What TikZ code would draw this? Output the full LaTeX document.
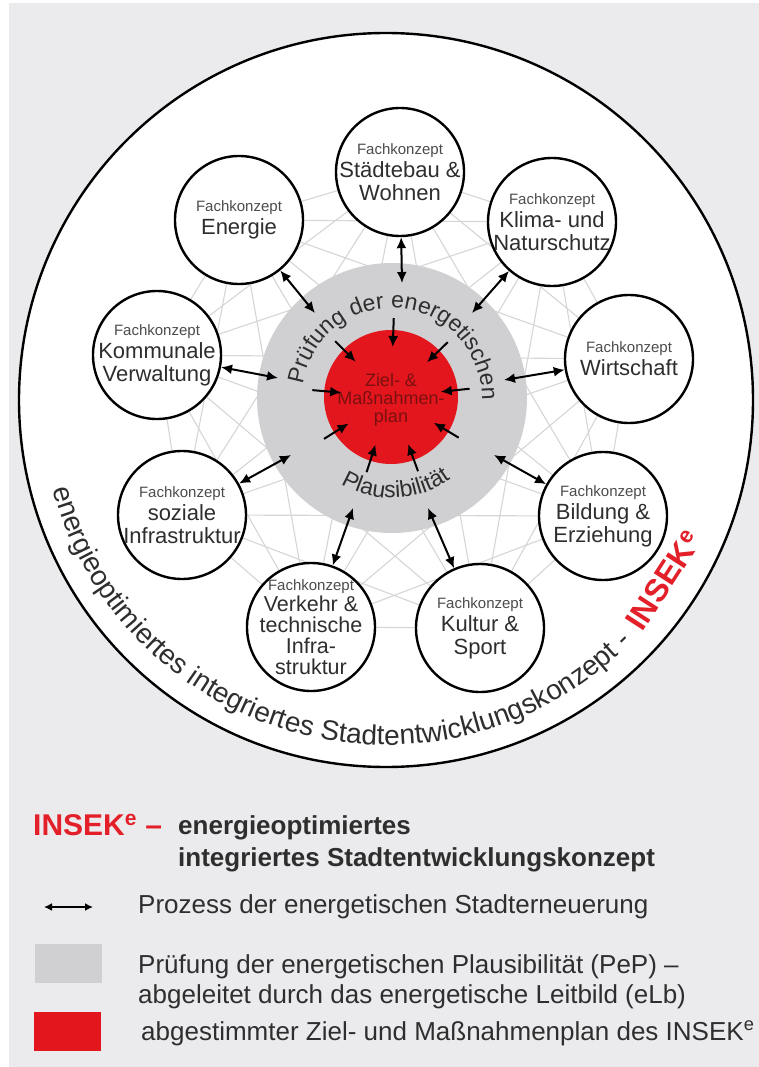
\documentclass[tikz,border=0pt]{standalone}
\usepackage{fontspec}
\setmainfont{Liberation Sans}
\usetikzlibrary{positioning,calc,arrows.meta,decorations.text}
\definecolor{bggray}{HTML}{EBEBED}
\definecolor{pepgray}{HTML}{D0D0D2}
\definecolor{zielred}{HTML}{E3161D}
\definecolor{zieltext}{HTML}{7A1010}
\definecolor{webgray}{HTML}{D6D6D6}
\definecolor{insekred}{HTML}{E3202A}
\definecolor{labelgray}{HTML}{2E2E2E}
\pgfdeclarelayer{bg}
\pgfdeclarelayer{webl}
\pgfsetlayers{bg,webl,main}
\tikzset{
  fk/.style={circle, draw=black, line width=2.4pt, fill=white, minimum size=128pt, inner sep=0pt},
  fktext/.style={align=center, inner sep=0pt, text=labelgray, font=\fontsize{22}{23}\selectfont},
  web/.style={draw=webgray, line width=1.1pt},
  dblarrow/.style={{Latex[length=11pt,width=10pt]}-{Latex[length=11pt,width=10pt]}, line width=2pt},
  inarrow/.style={-{Latex[length=11pt,width=10pt]}, line width=2pt},
  legtext/.style={anchor=base west, inner sep=0pt, text=labelgray, font=\fontsize{26}{28}\selectfont},
  legbox/.style={anchor=north west, minimum width=67pt, minimum height=39pt, inner sep=0pt},
}
\newcommand{\fkz}{{\fontsize{15}{16}\selectfont\color{black!70}Fachkonzept}\\}

\begin{document}
\begin{tikzpicture}[x=1pt,y=1pt]
\useasboundingbox (0,0) rectangle (759,-1067);
\begin{pgfonlayer}{bg}
  \fill[white] (0,0) rectangle (759,-1067);
  \fill[bggray] (9,-3) rectangle (759,-1067);
  \node[circle, draw=black, line width=2.4pt, fill=white, minimum size=734pt, inner sep=0pt] (insek) at (386,-400) {};
\end{pgfonlayer}

% Fachkonzepte
\node[fk] (wohnen) at (400,-172) {};
\node[fk] (energie) at (239,-220) {};
\node[fk] (klima) at (552,-222) {};
\node[fk] (verwaltung) at (157,-355) {};
\node[fk] (wirtschaft) at (629,-359) {};
\node[fk] (sozial) at (182,-515) {};
\node[fk] (bildung) at (603,-516) {};
\node[fk] (verkehr) at (311,-627) {};
\node[fk] (kultur) at (480,-628) {};

\node[fktext] (wohnen-txt) at (wohnen) {\fkz Städtebau \&\\Wohnen};
\node[fktext] (energie-txt) at (energie) {\fkz Energie};
\node[fktext] (klima-txt) at (klima) {\fkz Klima- und\\Naturschutz};
\node[fktext] (verwaltung-txt) at (verwaltung) {\fkz Kommunale\\Verwaltung};
\node[fktext] (wirtschaft-txt) at (wirtschaft) {\fkz Wirtschaft};
\node[fktext] (sozial-txt) at (sozial) {\fkz soziale\\Infrastruktur};
\node[fktext] (bildung-txt) at (bildung) {\fkz Bildung \&\\Erziehung};
\node[fktext, font=\fontsize{21.5}{21}\selectfont] (verkehr-txt) at (verkehr) {\fkz Verkehr \&\\technische\\Infra-\\struktur};
\node[fktext] (kultur-txt) at (kultur) {\fkz Kultur \&\\Sport};

\begin{pgfonlayer}{webl}
  \foreach \a [count=\i] in {wohnen,klima,wirtschaft,bildung,kultur,verkehr,sozial,verwaltung,energie}
    \foreach \b [count=\j] in {wohnen,klima,wirtschaft,bildung,kultur,verkehr,sozial,verwaltung,energie}
      {\ifnum\j>\i \draw[web] (\a) -- (\b); \fi}
\end{pgfonlayer}

% PeP und Ziel- und Massnahmenplan
\node[circle, fill=pepgray, minimum size=270pt, inner sep=0pt] (pep) at (392,-398) {};
\node[circle, fill=zielred, minimum size=134pt, inner sep=0pt] (ziel) at (391,-397) {};
\node[align=center, inner sep=0pt, text=zieltext, font=\fontsize{18}{18}\selectfont] (ziel-txt) at (391,-400) {Ziel- \&\\Maßnahmen-\\plan};

\path[decorate, decoration={text along path, text align=center,
  text={|\fontsize{23}{23}\selectfont\color{labelgray}|Prüfung der energetischen}}]
  ($(pep.center)+(174:90)$) arc[start angle=174, end angle=-4, radius=90];
\path[decorate, decoration={text along path, text align=center,
  text={|\fontsize{23}{23}\selectfont\color{labelgray}|Plausibilität}}]
  ($(pep.center)+(225:100)$) arc[start angle=225, end angle=320, radius=100];

\path[decorate, decoration={text along path,
  text={|\fontsize{28}{28}\selectfont\color{labelgray}|energieoptimiertes integriertes Stadtentwicklungskonzept -}}]
  ($(insek.center)+(195:345)$) arc[start angle=195, end angle=330, radius=345];
\node[rotate=57, anchor=base, inner sep=0pt, text=insekred, font=\bfseries\fontsize{32}{32}\selectfont] (ring-insek) at ($(insek.center)+(327:342)$) {INSEK\textsuperscript{e}};

% Prozesspfeile
\foreach \n/\x/\y in {wohnen/402/283, energie/315/313, klima/472/313, verwaltung/278/378, wirtschaft/504/380, sozial/291/455, bildung/494/455, verkehr/353/508, kultur/428/508}{
  \coordinate (\n-p) at (\x,-\y);
  \draw[dblarrow] (\n) -- (\n-p);
}
\foreach \w [count=\k] in {88,44,6,329,290,252,212,175,135}{
  \coordinate (in\k-a) at ($(ziel.center)+(\w:79)$);
  \coordinate (in\k-b) at ($(ziel.center)+(\w:50)$);
  \draw[inarrow] (in\k-a) -- (in\k-b);
}

% Legende
\node[anchor=base west, inner sep=0pt, text=insekred, font=\bfseries\fontsize{30}{30}\selectfont] (lg-insek) at (33,-835) {INSEK\textsuperscript{e} –};
\node[legtext, font=\bfseries\fontsize{26}{28}\selectfont] (lg-titel1) at (178,-834) {energieoptimiertes};
\node[legtext, font=\bfseries\fontsize{26}{28}\selectfont] (lg-titel2) at (178,-866) {integriertes Stadtentwicklungskonzept};
\coordinate (lg-pfeil-a) at (44,-907);
\coordinate (lg-pfeil-b) at (93,-907);
\draw[{Latex[length=8pt,width=8pt]}-{Latex[length=8pt,width=8pt]}, line width=1.8pt] (lg-pfeil-a) -- (lg-pfeil-b);
\node[legtext] (lg-prozess) at (138,-913) {Prozess der energetischen Stadterneuerung};
\node[legbox, fill=pepgray] (lg-grau) at (35,-944) {};
\node[legtext] (lg-pep1) at (138,-973) {Prüfung der energetischen Plausibilität (PeP) –};
\node[legtext] (lg-pep2) at (138,-1003) {abgeleitet durch das energetische Leitbild (eLb)};
\node[legbox, fill=zielred] (lg-rot) at (34,-1012) {};
\node[legtext] (lg-ziel) at (141,-1040) {abgestimmter Ziel- und Maßnahmenplan des INSEK\textsuperscript{e}};
\end{tikzpicture}
\end{document}
